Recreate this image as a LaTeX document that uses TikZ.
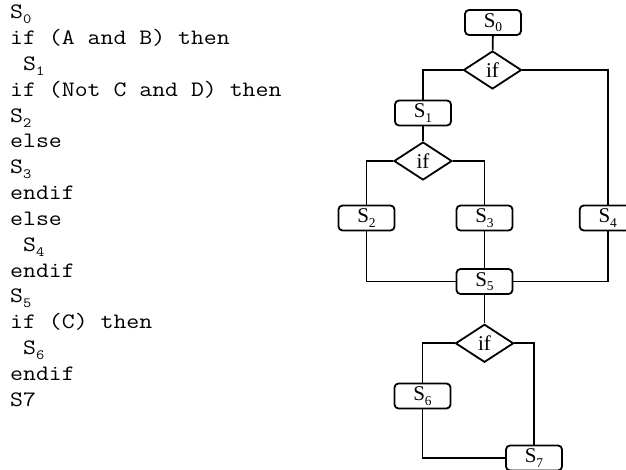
\documentclass[tikz,border=0pt]{standalone}
\usepackage{fontspec}
\setmainfont{Liberation Serif}
\usetikzlibrary{shapes.geometric}

% lowered, shrunk index digit (S_0, S_1, ...)
\newcommand\subs[1]{\raisebox{-0.22em}{\scalebox{0.64}{#1}}}
% slightly widened typewriter line
\newcommand\codetext[1]{\scalebox{1.14}[1]{#1}}

\tikzset{
  codeline/.style={font=\ttfamily\fontsize{22}{26}\selectfont, anchor=base west, inner sep=0pt},
  stmt/.style={draw, line width=1.8pt, rounded corners=4pt, minimum width=56pt,
               minimum height=25pt, inner sep=0pt, font=\fontsize{21}{22}\selectfont},
  cond/.style={draw, diamond, line width=1.8pt, minimum width=58pt, minimum height=38pt,
               inner sep=0pt, font=\fontsize{21}{22}\selectfont},
  flow/.style={line width=1.8pt}
}

\begin{document}
\begin{tikzpicture}[x=1pt, y=-1pt]
\useasboundingbox (0,0) rectangle (626,470);

% pseudo-code listing
\foreach \t [count=\i] in {
  {S\subs{0}},
  {if (A and B) then},
  {\phantom{x}S\subs{1}},
  {if (Not C and D) then},
  {S\subs{2}},
  {else},
  {S\subs{3}},
  {endif},
  {else},
  {\phantom{x}S\subs{4}},
  {endif},
  {S\subs{5}},
  {if (C) then},
  {\phantom{x}S\subs{6}},
  {endif},
  {S7}}
  \node[codeline] (c\i) at (10, {19 + (\i-1)*25.8}) {\codetext{\t}};

% flow graph
\node[stmt] (s0) at (493, 22.5) {S\subs{0}};
\node[cond] (d1) at (492.5, 70) {if};
\node[stmt] (s1) at (423, 113) {S\subs{1}};
\node[cond] (d2) at (423, 161) {if};
\node[stmt] (s2) at (366.5, 218) {S\subs{2}};
\node[stmt] (s3) at (484.5, 218) {S\subs{3}};
\node[stmt] (s4) at (607.7, 218) {S\subs{4}};
\node[stmt] (s5) at (484.5, 281.5) {S\subs{5}};
\node[cond] (d3) at (484.5, 343.3) {if};
\node[stmt] (s6) at (422.5, 396) {S\subs{6}};
\node[stmt] (s7) at (534, 458) {S\subs{7}};

\draw[flow] (s0) -- (d1);
\draw[flow] (d1.west) -| (s1.north);
\draw[flow] (d1.east) -| (s4.north);
\draw[flow] (s1) -- (d2);
\draw[flow] (d2.west) -| (s2.north);
\draw[flow] (d2.east) -| (s3.north);
\draw[flow] (s2.south) |- (s5.west);
\draw[flow] (s3) -- (s5);
\draw[flow] (s4.south) |- (s5.east);
\draw[flow] (s5) -- (d3);
\draw[flow] (d3.west) -| (s6.north);
\draw[flow] (d3.east) -| (s7.north);
\draw[flow] (s6.south) |- (s7.west);
\end{tikzpicture}
\end{document}
